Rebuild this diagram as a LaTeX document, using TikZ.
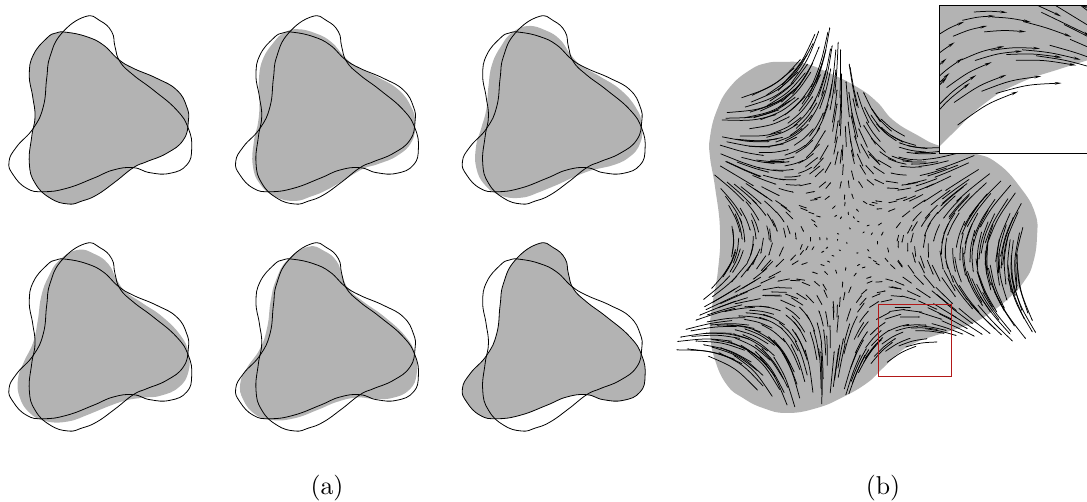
\documentclass[tikz,border=0pt]{standalone}
\usepackage{amsmath}
\usepackage{tikz}
\usetikzlibrary{arrows.meta,calc}
\definecolor{fillgray}{RGB}{179,179,179}
\definecolor{zoomred}{RGB}{178,24,24}
% outlines traced at 27 points: first and last shape of the morph
\def\xM{{66.7,86.7,103.3,118.3,133.3,156.7,176.7,186.7,188.3,183.3,166.7,146.7,133.3,115,96.7,82,68.3,50,35,29.3,31.7,35,32.7,29.3,33.3,46.7,56}}
\def\yM{{32.3,36.7,45,59.3,68.3,78.3,90,106.7,121.7,140,153.3,161.7,167.7,182,195,201,204,198,183,163,136.7,116.7,96.7,75,55,38.3,33}}
\def\xT{{85,100,111.7,115,120,133.3,153.3,176.7,188.3,191.7,186.7,170,150,133.3,113.3,93.3,66.7,43.3,26.7,13.3,9,16.7,33.3,43.3,46.7,50,61.7}}
\def\yT{{16.7,20.7,31.7,46.7,61.7,75,90,110,128.3,148.3,165,173.3,172.7,167.7,170,178.3,188.3,191.7,188.3,175,161.7,146.7,128.3,106.7,78.3,56.7,33.3}}
\tikzset{
outline/.style={
  draw=black,
  line width=0.8pt
},
flowline/.style={
  ->,
  line width=0.75pt,
  draw=black
},
caption/.style={
  font=\normalsize,
  scale=2.58
}
}
% one morph stage, #1 = stage between 0 and 1
\newcommand{\morphpath}[1]{plot[smooth cycle,tension=0.8,samples at={0,...,26},variable=\k]
  ({(1-#1)*\xM[int(\k)]+#1*\xT[int(\k)]},{(1-#1)*\yM[int(\k)]+#1*\yT[int(\k)]})}
% half a step of the field at the point #1,#2
\newcommand{\flowstep}[2]{%
  \pgfmathsetmacro{\dX}{(#1-848)/100}%
  \pgfmathsetmacro{\dY}{(240-#2)/100}%
  \pgfmathsetmacro{\rad}{sqrt(\dX*\dX+\dY*\dY)}%
  \pgfmathsetmacro{\ang}{atan2(\dY,\dX)}%
  \pgfmathsetmacro{\dir}{263-2*\ang+12*sin(\ang)}%
  \pgfmathsetmacro{\mag}{min(10*\rad*\rad+1,32)}%
  \pgfmathsetmacro{\stepu}{\mag*cos(\dir)}%
  \pgfmathsetmacro{\stepv}{-\mag*sin(\dir)}%
}
% the vector field, #1..#4 = window of start points that get drawn
\newcommand{\flowfield}[4]{%
  \pgfmathsetseed{11}%
  \foreach \gx in {676,687,...,1040}{
    \foreach \gy in {46,57,...,430}{
      \pgfmathsetmacro{\sx}{\gx+11*rnd-5.5}
      \pgfmathsetmacro{\sy}{\gy+11*rnd-5.5}
      \pgfmathtruncatemacro{\inview}{(\sx>#1)&&(\sx<#3)&&(\sy>#2)&&(\sy<#4)}
      \ifnum\inview=1
        \flowstep{\sx}{\sy}
        \pgfmathtruncatemacro{\inside}{\rad<0.95*(1.58+0.32*cos(3*(\ang-5)))}
        \ifnum\inside=1
          \pgfmathsetmacro{\mx}{\sx+\stepu}
          \pgfmathsetmacro{\my}{\sy+\stepv}
          \flowstep{\mx}{\my}
          \pgfmathsetmacro{\ex}{\mx+\stepu}
          \pgfmathsetmacro{\ey}{\my+\stepv}
          \draw[flowline] (\sx,\sy) .. controls (\mx,\my) .. (\ex,\ey);
        \fi
      \fi
    }
  }
}
\newcommand{\blobpath}{plot[smooth cycle,tension=0.8] coordinates {(783,62) (803,63) (827,72) (857,87) (877,102) (893,120) (917,135) (940,146) (973,153) (997,163) (1020,187) (1035,213) (1037,237) (1033,263) (1025,280) (1010,297) (990,313) (973,323) (953,330) (937,335) (917,342) (900,352) (883,368) (867,383) (843,397) (817,408) (787,413) (763,408) (743,398) (727,385) (715,360) (710,333) (712,307) (718,270) (720,230) (715,187) (710,157) (710,137) (717,110) (730,87) (750,70) (767,63)}}
\begin{document}
\begin{tikzpicture}[x=1pt,y=-1pt]
\useasboundingbox (0,0) rectangle (1087,502);
% panel (a), six stages of the morph
\foreach \col/\row/\stage in {0/0/0,1/0/0.2,2/0/0.4,0/1/0.6,1/1/0.8,2/1/1}{
  \begin{scope}[shift={(226.7*\col,227*\row)}]
    \fill[fillgray] \morphpath{\stage};
    \draw[outline] \morphpath{0};
    \draw[outline] \morphpath{1};
  \end{scope}
}
\node[caption] (capa) at (327,488) {(a)};
% panel (b)
\fill[fillgray] \blobpath;
\begin{scope}[>={Stealth[length=2pt,width=1pt]}]
  \flowfield{600}{0}{1087}{502}
\end{scope}
\draw[zoomred,line width=0.9pt] (878.3,304.3) rectangle (951.7,376.3);
\begin{scope}
  \clip (939.5,5.5) rectangle (1092,154);
  \fill[white] (939.5,5.5) rectangle (1092,154);
  \begin{scope}[shift={(939.5,5.5)},scale=2.06,shift={(-878.3,-304.3)},>={Stealth[length=7pt,width=2.6pt]}]
    \fill[fillgray] \blobpath;
    \flowfield{820}{270}{960}{385}
  \end{scope}
\end{scope}
\draw[black,line width=1pt] (939.5,5.5) rectangle (1092,154);
\node[caption] (capb) at (883,488) {(b)};
\end{tikzpicture}
\end{document}
